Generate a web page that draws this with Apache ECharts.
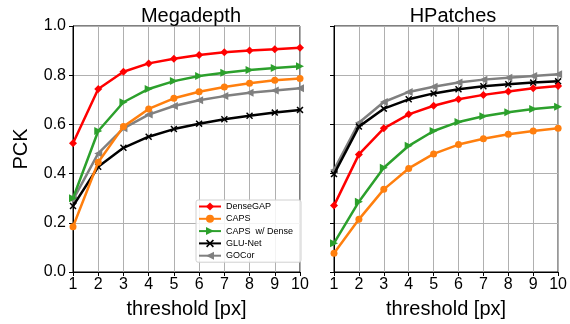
<!DOCTYPE html>
<html>
<head>
<meta charset="utf-8">
<script src="https://cdn.jsdelivr.net/npm/echarts@6/dist/echarts.min.js"></script>
<style>
  html, body { margin: 0; padding: 0; background: #fff; }
  #main { width: 570px; height: 324px; }
</style>
</head>
<body>
<div id="main"></div>
<script>
const thresholds = [1, 2, 3, 4, 5, 6, 7, 8, 9, 10];
const methods = ['DenseGAP', 'CAPS', 'CAPS  w/ Dense', 'GLU-Net', 'GOCor'];

// Megadepth
const mdDenseGAP = [0.523, 0.744, 0.814, 0.848, 0.867, 0.882, 0.893, 0.900, 0.905, 0.912];
const mdCAPS = [0.184, 0.446, 0.591, 0.663, 0.706, 0.733, 0.752, 0.767, 0.779, 0.787];
const mdCAPSDense = [0.300, 0.573, 0.690, 0.744, 0.776, 0.797, 0.810, 0.821, 0.829, 0.836];
const mdGLUNet = [0.268, 0.428, 0.505, 0.550, 0.581, 0.603, 0.621, 0.635, 0.648, 0.659];
const mdGOCor = [0.293, 0.482, 0.584, 0.640, 0.675, 0.698, 0.715, 0.729, 0.738, 0.747];

// HPatches
const hpDenseGAP = [0.270, 0.478, 0.584, 0.641, 0.676, 0.702, 0.720, 0.734, 0.747, 0.756];
const hpCAPS = [0.076, 0.214, 0.336, 0.421, 0.480, 0.518, 0.542, 0.560, 0.573, 0.584];
const hpCAPSDense = [0.117, 0.286, 0.424, 0.513, 0.573, 0.610, 0.633, 0.649, 0.663, 0.672];
const hpGLUNet = [0.398, 0.591, 0.664, 0.702, 0.726, 0.743, 0.755, 0.763, 0.770, 0.775];
const hpGOCor = [0.415, 0.607, 0.691, 0.732, 0.753, 0.770, 0.782, 0.790, 0.797, 0.804];

const colors = ['#ff0000', '#ff7f0e', '#2ca02c', '#000000', '#808080'];
const xMark = 'path://M0,1.5L1.5,0L5,3.5L8.5,0L10,1.5L6.5,5L10,8.5L8.5,10L5,6.5L1.5,10L0,8.5L3.5,5Z';
const symbols = [
  { symbol: 'diamond', symbolSize: 8, symbolRotate: 0 },
  { symbol: 'circle', symbolSize: 7, symbolRotate: 0 },
  { symbol: 'triangle', symbolSize: 8, symbolRotate: -90 },
  { symbol: xMark, symbolSize: 7, symbolRotate: 0 },
  { symbol: 'triangle', symbolSize: 8, symbolRotate: 90 },
];

const font = 'Liberation Sans';

function pairs(vals) {
  return thresholds.map((t, i) => [t, vals[i]]);
}

function makeSeries(idx, list) {
  return list.map((vals, i) => ({
    name: methods[i],
    type: 'line',
    xAxisIndex: idx,
    yAxisIndex: idx,
    data: pairs(vals),
    symbol: symbols[i].symbol,
    symbolSize: symbols[i].symbolSize,
    symbolRotate: symbols[i].symbolRotate,
    lineStyle: { color: colors[i], width: 2.5 },
    itemStyle: { color: colors[i] },
    z: 10 - i,
  }));
}

function xAxis(idx) {
  return {
    gridIndex: idx,
    type: 'value',
    min: 1, max: 10, interval: 1,
    name: 'threshold [px]',
    nameLocation: 'middle',
    nameGap: 27,
    nameTextStyle: { fontFamily: font, fontSize: 20, color: '#000' },
    axisLine: { show: true, onZero: false, lineStyle: { color: '#000', width: 1 } },
    axisTick: { show: true, length: 4, lineStyle: { color: '#000' } },
    axisLabel: { fontFamily: font, fontSize: 16, color: '#000', margin: 5 },
    splitLine: { show: true, lineStyle: { color: '#b0b0b0', width: 1 } },
  };
}

function yAxis(idx, labels) {
  return {
    gridIndex: idx,
    type: 'value',
    min: 0, max: 1, interval: 0.2,
    name: labels ? 'PCK' : '',
    nameLocation: 'middle',
    nameGap: 42,
    nameTextStyle: { fontFamily: font, fontSize: 20, color: '#000' },
    axisLine: { show: true, lineStyle: { color: '#000', width: 1 } },
    axisTick: { show: true, length: 4, lineStyle: { color: '#000' } },
    axisLabel: {
      show: labels, fontFamily: font, fontSize: 16, color: '#000', margin: 7,
      formatter: v => v.toFixed(1),
    },
    splitLine: { show: true, lineStyle: { color: '#b0b0b0', width: 1 } },
  };
}

const chart = echarts.init(document.getElementById('main'), null, { renderer: 'canvas' });
chart.setOption({
  animation: false,
  title: [
    { text: 'Megadepth', left: 186, top: 1, textAlign: 'center',
      textStyle: { fontFamily: font, fontSize: 20, fontWeight: 'normal', color: '#000' } },
    { text: 'HPatches', left: 448, top: 1, textAlign: 'center',
      textStyle: { fontFamily: font, fontSize: 20, fontWeight: 'normal', color: '#000' } },
  ],
  grid: [
    { left: 73, top: 26, width: 227, height: 246, show: true, borderColor: '#000', borderWidth: 1 },
    { left: 334, top: 26, width: 229, height: 246, show: true, borderColor: '#000', borderWidth: 1 },
  ],
  xAxis: [xAxis(0), xAxis(1)],
  yAxis: [yAxis(0, true), yAxis(1, false)],
  legend: {
    data: methods,
    orient: 'vertical',
    left: 196,
    top: 200,
    itemWidth: 22,
    itemHeight: 10,
    itemGap: 3.3,
    padding: [2, 8, 2, 2],
    backgroundColor: 'rgba(255,255,255,0.85)',
    borderColor: '#d0d0d0',
    borderWidth: 1,
    borderRadius: 2,
    textStyle: { fontFamily: font, fontSize: 9, color: '#000' },
  },
  series: [
    ...makeSeries(0, [mdDenseGAP, mdCAPS, mdCAPSDense, mdGLUNet, mdGOCor]),
    ...makeSeries(1, [hpDenseGAP, hpCAPS, hpCAPSDense, hpGLUNet, hpGOCor]),
  ],
});
</script>
</body>
</html>
